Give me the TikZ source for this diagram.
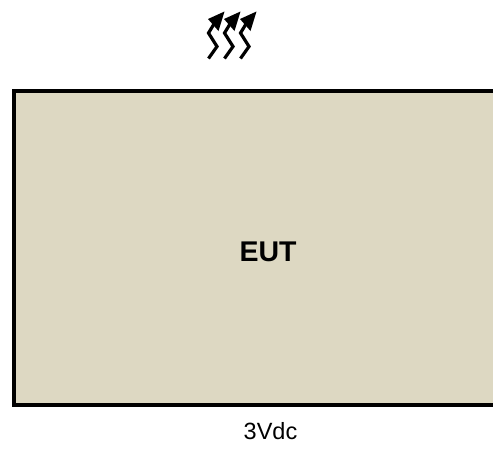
\documentclass[tikz,border=0pt]{standalone}
\usepackage{fontspec}
\setmainfont{Liberation Sans}
\definecolor{eutfill}{RGB}{221,216,194}
\tikzset{
  boxedge/.style={line width=4pt,line cap=butt,line join=miter,black},
  zigzag/.style={line width=3.2pt,line join=miter,black},
  zighead/.style={fill=black,draw=none},
  boxlabel/.style={font=\bfseries\fontsize{28.5}{28.5}\selectfont,inner sep=0pt},
  supply/.style={font=\fontsize{23.5}{23.5}\selectfont,inner sep=0pt}
}
\begin{document}
\begin{tikzpicture}[x=1pt,y=-1pt]
\useasboundingbox (0,0) rectangle (493,448);
\fill[eutfill] (14,91) rectangle (493,405);
\draw[boxedge] (493,91) -- (14,91) -- (14,405) -- (493,405);
\node[boxlabel] (eut) at (268,252) {EUT};
\node[supply] (vdc) at (270.5,431.5) {3Vdc};
\foreach \dx in {0,16,32}{
  \begin{scope}[xshift=\dx pt]
    \draw[zigzag] (208.5,58.5) -- (217,46.5) -- (208.5,33) -- (214,24);
    \fill[zighead] (224.5,11.5) -- (208,19) -- (218.5,31) -- cycle;
  \end{scope}
}
\end{tikzpicture}
\end{document}
